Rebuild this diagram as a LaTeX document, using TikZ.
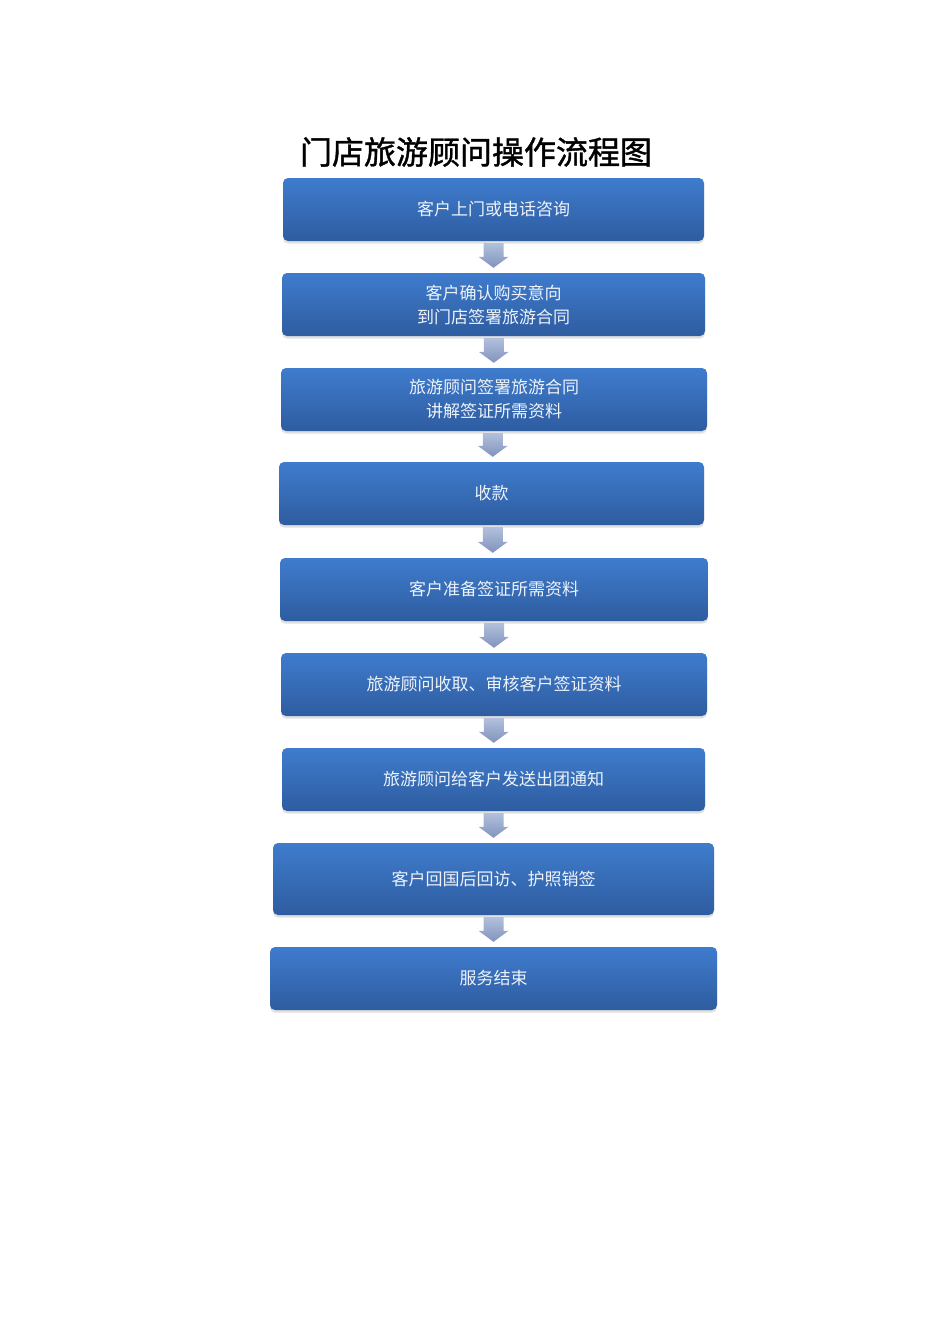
\documentclass[tikz,border=0pt]{standalone}
\usepackage{fontspec}
\setmainfont{Noto Sans CJK SC}
\newfontfamily\titlefont[FakeBold=1.2]{Noto Sans CJK SC}
\usetikzlibrary{calc,shadows}
\definecolor{boxtop}{HTML}{3F7CCD}
\definecolor{boxbot}{HTML}{2E5CA0}
\definecolor{boxtext}{HTML}{EEF3FA}
\definecolor{arrtop}{HTML}{B2C0DC}
\definecolor{arrbot}{HTML}{8193BD}
\newcommand\barrow[2]{%
  \path[arrowshade] let \p1=($(#1.south)!0.5!(#2.north)$), \p2=(#1.south), \p3=(#2.north) in
    (\x1-10pt,\y2-2pt) -- (\x1+10pt,\y2-2pt) -- (\x1+10pt,\y3+16pt) -- (\x1+15pt,\y3+16pt)
    -- (\x1,\y3+5pt) -- (\x1-15pt,\y3+16pt) -- (\x1-10pt,\y3+16pt) -- cycle;}
\begin{document}
\begin{tikzpicture}[x=1pt,y=-1pt,
  box/.style={rounded corners=5pt, top color=boxtop, bottom color=boxbot,
    text=boxtext, font=\fontsize{17}{24}\selectfont, align=center, inner sep=0pt,
    minimum height=63pt,
    drop shadow={opacity=0.2, shadow xshift=0pt, shadow yshift=-2.5pt, fill=black!60}},
  arrowshade/.style={top color=arrtop, bottom color=arrbot},
  titlestyle/.style={font=\titlefont\fontsize{32}{36}\selectfont, text=black, inner sep=0pt}]
\useasboundingbox (0,0) rectangle (950,1344);
\fill[white] (0,0) rectangle (950,1344);
\node[titlestyle] (title) at (476,152) {门店旅游顾问操作流程图};
\node[box, minimum width=421pt] (b1) at (493.5,209.5) {客户上门或电话咨询};
\node[box, minimum width=423pt] (b2) at (493.5,304.5) {客户确认购买意向\\到门店签署旅游合同};
\node[box, minimum width=426pt] (b3) at (494,399.5) {旅游顾问签署旅游合同\\讲解签证所需资料};
\node[box, minimum width=425pt] (b4) at (491.5,493.5) {收款};
\node[box, minimum width=428pt] (b5) at (494,589.5) {客户准备签证所需资料};
\node[box, minimum width=426pt] (b6) at (494,684.5) {旅游顾问收取、审核客户签证资料};
\node[box, minimum width=423pt] (b7) at (493.5,779.5) {旅游顾问给客户发送出团通知};
\node[box, minimum width=441pt, minimum height=72pt] (b8) at (493.5,879) {客户回国后回访、护照销签};
\node[box, minimum width=447pt] (b9) at (493.5,978.5) {服务结束};
\barrow{b1}{b2}
\barrow{b2}{b3}
\barrow{b3}{b4}
\barrow{b4}{b5}
\barrow{b5}{b6}
\barrow{b6}{b7}
\barrow{b7}{b8}
\barrow{b8}{b9}
\end{tikzpicture}
\end{document}
